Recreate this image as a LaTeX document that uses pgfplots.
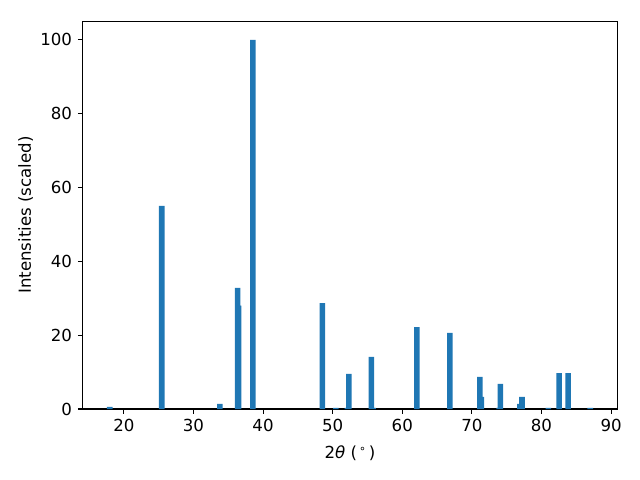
\documentclass[border=0pt]{standalone}
\usepackage{pgfplots}
\pgfplotsset{compat=1.18}
\usepackage{fontspec}
\setmainfont{DejaVu Sans}
\definecolor{mplblue}{HTML}{1F77B4}
\begin{document}
\fontsize{12pt}{14pt}\selectfont
\begin{tikzpicture}
\begin{axis}[
  scale only axis,
  width=5.346in, height=3.877in,
  xmin=14.09, xmax=90.89, ymin=0, ymax=105,
  xtick={20,30,...,90}, ytick={0,20,...,100},
  tick align=outside, tick pos=left,
  major tick length=3.5pt,
  every tick/.style={black, line width=0.8pt},
  axis line style={line width=0.8pt},
  /pgf/number format/assume math mode=true,
  ticklabel style={font=\fontsize{12pt}{14pt}\selectfont},
  label style={font=\fontsize{12pt}{14pt}\selectfont},
  xlabel={2\textit{θ} (\kern1.5pt\textsuperscript{∘}\kern1.5pt)},
  ylabel={Intensities (scaled)},
  ylabel style={yshift=-3pt},
  xlabel style={yshift=-1.5pt},
]
\addplot[ybar, bar width=0.8, fill=mplblue, draw=none, bar shift=0pt] coordinates {
(17.98,0.6)
(25.45,55)
(33.79,1.4)
(36.35,32.8)
(36.5,28.0)
(38.54,100)
(48.53,28.7)
(50.47,0.3)
(52.1,0.3)
(52.34,9.5)
(55.57,14.1)
(55.8,0.3)
(62.1,22.2)
(66.85,20.6)
(71.14,8.7)
(71.35,3.3)
(73.9,0.3)
(74.1,6.8)
(76.9,1.4)
(77.2,3.3)
(81.0,0.3)
(82.52,9.75)
(83.82,9.75)
(87.0,0.3)
};
\end{axis}
\pgfresetboundingbox
\useasboundingbox (-0.827in,-0.71in) rectangle (5.573in,4.09in);
\end{tikzpicture}
\end{document}
